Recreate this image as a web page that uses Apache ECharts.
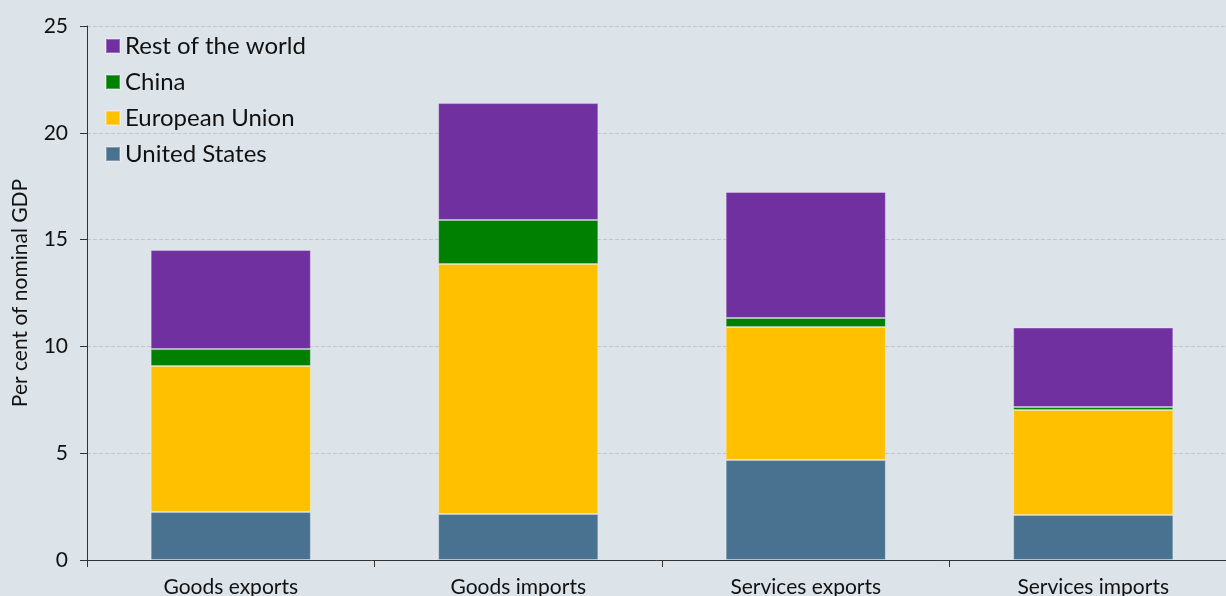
<!DOCTYPE html>
<html>
<head>
<meta charset="utf-8">
<script src="https://cdn.jsdelivr.net/npm/echarts@6/dist/echarts.min.js"></script>
<style>
  html, body { margin: 0; padding: 0; background: #dce3e9; }
  #main { width: 1226px; height: 596px; }
</style>
</head>
<body>
<div id="main"></div>
<script>
// categories and segment values (per cent of nominal GDP)
var categories = ['Goods exports', 'Goods imports', 'Services exports', 'Services imports'];
var unitedStates = [2.25, 2.15, 4.68, 2.11];
var europeanUnion = [6.83, 11.71, 6.23, 4.91];
var china = [0.80, 2.06, 0.42, 0.14];
var restOfWorld = [4.63, 5.47, 5.90, 3.72];
var yTicks = [0, 5, 10, 15, 20, 25];

var chart = echarts.init(document.getElementById('main'));
var font = 'Lato, "Noto Sans", sans-serif';

function bar(name, data, color) {
  return {
    name: name,
    type: 'bar',
    stack: 'total',
    data: data,
    barWidth: '55.7%',
    itemStyle: { color: color, borderColor: 'rgba(255,255,255,0.3)', borderWidth: 1 },
    emphasis: { disabled: true }
  };
}

chart.setOption({
  backgroundColor: '#dce3e9',
  animation: false,
  textStyle: { fontFamily: font },
  grid: { left: 87, width: 1150, top: 26, height: 534, containLabel: false, outerBoundsMode: 'none' },
  legend: {
    orient: 'vertical',
    left: 100,
    top: 29,
    itemWidth: 14,
    itemHeight: 14,
    itemGap: 12,
    icon: 'rect',
    textStyle: { fontSize: 24, color: '#111', fontFamily: font },
    data: ['Rest of the world', 'China', 'European Union', 'United States']
  },
  xAxis: {
    type: 'category',
    data: categories,
    axisLine: { lineStyle: { color: '#333', width: 1 } },
    axisTick: { show: true, length: 7, alignWithLabel: false, lineStyle: { color: '#333' } },
    axisLabel: { color: '#111', fontSize: 21, margin: 17, fontFamily: font },
    splitLine: { show: false }
  },
  yAxis: {
    type: 'value',
    min: yTicks[0],
    max: yTicks[yTicks.length - 1],
    interval: 5,
    name: 'Per cent of nominal GDP',
    nameLocation: 'middle',
    nameGap: 56,
    nameTextStyle: { fontSize: 21, color: '#111', fontFamily: font },
    axisLine: { show: true, lineStyle: { color: '#333' } },
    axisTick: { show: true, length: 7, lineStyle: { color: '#333' } },
    axisLabel: { color: '#111', fontSize: 21, margin: 19, fontFamily: font },
    splitLine: { show: true, lineStyle: { color: '#c3c6c9', type: 'dashed', width: 1 } }
  },
  series: [
    bar('United States', unitedStates, '#48728f'),
    bar('European Union', europeanUnion, '#ffc000'),
    bar('China', china, '#008000'),
    bar('Rest of the world', restOfWorld, '#7030a0')
  ]
});
</script>
</body>
</html>
